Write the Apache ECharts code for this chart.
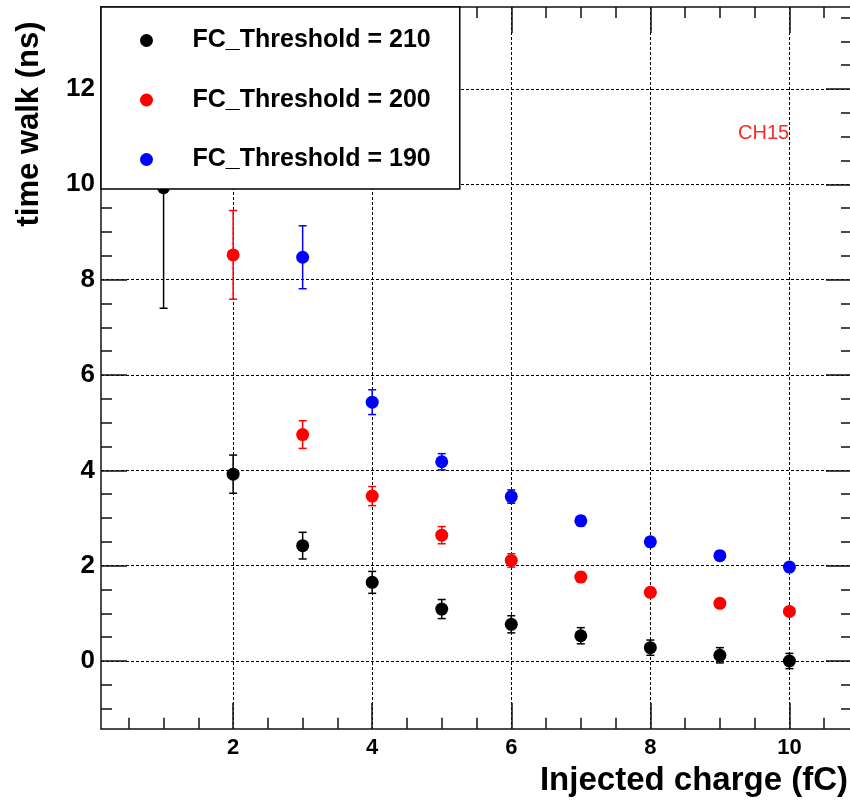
<!DOCTYPE html>
<html><head><meta charset="utf-8">
<script src="https://cdn.jsdelivr.net/npm/echarts@6/dist/echarts.min.js"></script>
<style>html,body{margin:0;padding:0;background:#fff}#c{width:850px;height:803px}</style>
</head><body><div id="c"></div>
<script>
// ---- data ----
const names = ['FC_Threshold = 210', 'FC_Threshold = 200', 'FC_Threshold = 190'];
const charge210 = [1, 2, 3, 4, 5, 6, 7, 8, 9, 10];
const walk210   = [9.93, 3.92, 2.42, 1.65, 1.09, 0.77, 0.53, 0.28, 0.12, 0.00];
const err210    = [2.53, 0.40, 0.28, 0.23, 0.20, 0.18, 0.17, 0.16, 0.16, 0.16];
const charge200 = [2, 3, 4, 5, 6, 7, 8, 9, 10];
const walk200   = [8.52, 4.75, 3.46, 2.64, 2.11, 1.76, 1.44, 1.21, 1.04];
const err200    = [0.93, 0.29, 0.20, 0.18, 0.14, 0.10, 0.09, 0.08, 0.07];
const charge190 = [3, 4, 5, 6, 7, 8, 9, 10];
const walk190   = [8.47, 5.43, 4.18, 3.45, 2.94, 2.50, 2.21, 1.97];
const err190    = [0.66, 0.26, 0.17, 0.14, 0.10, 0.09, 0.09, 0.08];
const colors = ['#000000', '#ff0000', '#0000ff'];
const xMajor = [2, 4, 6, 8, 10];
const xMinor = [0.5, 1, 1.5, 2.5, 3, 3.5, 4.5, 5, 5.5, 6.5, 7, 7.5, 8.5, 9, 9.5, 10.5];
const yMajor = [0, 2, 4, 6, 8, 10, 12];
const yMinor = [-1, -0.5, 0.5, 1, 1.5, 2.5, 3, 3.5, 4.5, 5, 5.5, 6.5, 7, 7.5, 8.5, 9, 9.5, 10.5, 11, 11.5, 12.5, 13, 13.5];
const X_MIN = 0.1, X_MAX = 10.9, Y_MIN = -1.42, Y_MAX = 13.72;
const FONT = '"Liberation Sans", Arial, Helvetica, sans-serif';

// ---- chart ----
const chart = echarts.init(document.getElementById('c'), null, {renderer: 'canvas'});
const frameLine = {show: true, onZero: false, lineStyle: {color: '#111', width: 1.5}};
const noLine = {show: false, onZero: false};
const tickStyle = {color: '#111', width: 1.5};
const gridLine = {show: true, lineStyle: {color: '#000', width: 1, type: [3, 2]}};

function axis(dim, pos, vals, len, main) {
  return {
    type: 'value', min: dim === 'x' ? X_MIN : Y_MIN, max: dim === 'x' ? X_MAX : Y_MAX,
    position: pos, gridIndex: 0,
    axisLine: main === 'frame' || main === 'label' ? frameLine : noLine,
    axisTick: {show: true, inside: true, length: len, customValues: vals, lineStyle: tickStyle},
    axisLabel: main === 'label' ? {
      show: true, customValues: vals, margin: dim === 'x' ? 8 : 6,
      fontSize: dim === 'x' ? 22 : 26, fontWeight: 'bold',
      padding: dim === 'x' ? 0 : [4, 0, 0, 0],
      color: '#000', fontFamily: FONT
    } : {show: false},
    splitLine: main === 'label' ? gridLine : {show: false},
    minorTick: {show: false}, minorSplitLine: {show: false},
    axisPointer: {show: false}
  };
}

function errSeries(xs, ys, es, color) {
  return {
    type: 'custom', silent: true, z: 2, clip: false,
    encode: {x: 0, y: [1, 2]},
    data: xs.map((x, i) => [x, ys[i] - es[i], ys[i] + es[i]]),
    renderItem: function (params, api) {
      const lo = api.coord([api.value(0), api.value(1)]);
      const hi = api.coord([api.value(0), api.value(2)]);
      const cap = 4;
      const st = {stroke: color, lineWidth: 1.5};
      return {type: 'group', children: [
        {type: 'line', shape: {x1: lo[0], y1: lo[1], x2: hi[0], y2: hi[1]}, style: st},
        {type: 'line', shape: {x1: lo[0] - cap, y1: lo[1], x2: lo[0] + cap, y2: lo[1]}, style: st},
        {type: 'line', shape: {x1: hi[0] - cap, y1: hi[1], x2: hi[0] + cap, y2: hi[1]}, style: st}
      ]};
    }
  };
}
function ptSeries(name, xs, ys, color) {
  return {
    type: 'scatter', name: name, z: 3, symbol: 'circle', symbolSize: 13,
    itemStyle: {color: color, opacity: 1},
    data: xs.map((x, i) => [x, ys[i]])
  };
}

chart.setOption({
  animation: false,
  backgroundColor: '#fff',
  grid: {left: 101, top: 7, width: 751, height: 721.7, outerBoundsMode: 'none', containLabel: false},
  xAxis: [
    axis('x', 'bottom', xMajor, 26, 'label'),
    axis('x', 'bottom', xMinor, 11, 'none'),
    axis('x', 'top', xMajor, 26, 'frame'),
    axis('x', 'top', xMinor, 11, 'none')
  ],
  yAxis: [
    axis('y', 'left', yMajor, 26, 'label'),
    axis('y', 'left', yMinor, 11, 'none'),
    axis('y', 'right', yMajor, 26, 'frame'),
    axis('y', 'right', yMinor, 11, 'none')
  ],
  legend: {
    orient: 'vertical', left: 101, top: 7, data: names, icon: 'circle',
    itemWidth: 82, itemHeight: 13, itemGap: 29.5, padding: [18.5, 29, 14.5, 39],
    backgroundColor: '#fff', borderColor: '#000', borderWidth: 1.5, borderRadius: 0,
    selectedMode: false, z: 10,
    textStyle: {fontSize: 25, fontWeight: 'bold', color: '#000', fontFamily: FONT, lineHeight: 30}
  },
  series: [
    errSeries(charge210, walk210, err210, colors[0]),
    errSeries(charge200, walk200, err200, colors[1]),
    errSeries(charge190, walk190, err190, colors[2]),
    ptSeries(names[0], charge210, walk210, colors[0]),
    ptSeries(names[1], charge200, walk200, colors[1]),
    ptSeries(names[2], charge190, walk190, colors[2])
  ],
  graphic: [
    {type: 'text', left: 738, top: 123, silent: true,
     style: {text: 'CH15', fill: '#ff2a2a', font: '20px ' + FONT}},
    {type: 'text', x: 29, y: 124, rotation: Math.PI / 2, silent: true,
     style: {text: 'time walk (ns)', fill: '#000', font: 'bold 31px ' + FONT, align: 'center', verticalAlign: 'middle'}},
    {type: 'text', x: 848, y: 781, silent: true,
     style: {text: 'Injected charge (fC)', fill: '#000', font: 'bold 33px ' + FONT, align: 'right', verticalAlign: 'middle'}}
  ]
});
</script></body></html>
